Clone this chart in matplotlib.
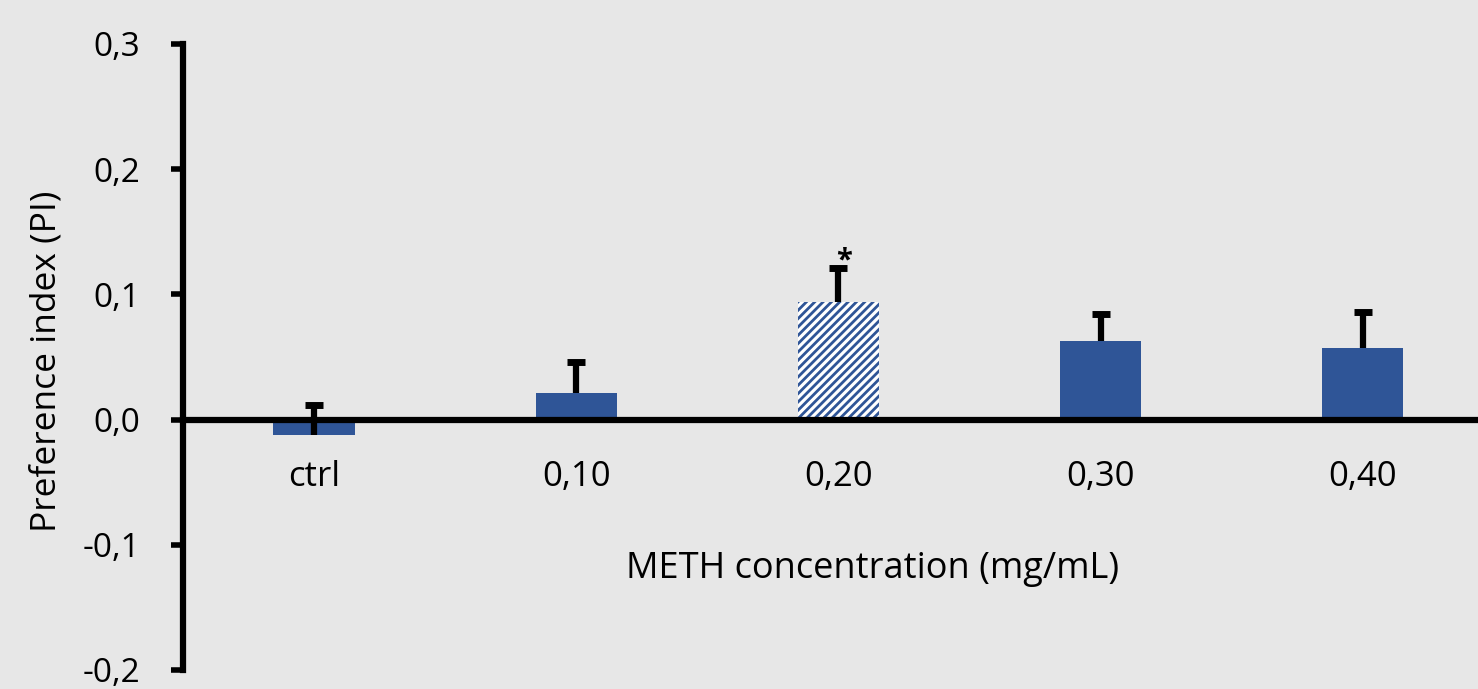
import numpy as np
import matplotlib.pyplot as plt

plt.rcParams['font.family'] = ['Open Sans', 'DejaVu Sans']
plt.rcParams['hatch.linewidth'] = 2.0

categories = ['ctrl', '0,10', '0,20', '0,30', '0,40']
values = [-0.012, 0.021, 0.094, 0.063, 0.057]
errors = [0.024, 0.025, 0.027, 0.021, 0.029]
yticks = [-0.2, -0.1, 0.0, 0.1, 0.2, 0.3]
ytick_labels = ['-0,2', '-0,1', '0,0', '0,1', '0,2', '0,3']

bg = '#e7e7e7'
blue = '#2f5597'

fig = plt.figure(figsize=(14.78, 6.89), dpi=100, facecolor=bg)
ax = fig.add_axes([183/1478, 19/689, 1295/1478, 626/689], facecolor=bg)

x = np.arange(len(categories))
bars = ax.bar(x, values, width=0.31, color=blue, zorder=2)
# significant bar is hatched
bars[2].set_facecolor('white')
bars[2].set_edgecolor(blue)
bars[2].set_hatch('////')
bars[2].set_linewidth(0)

# upper error bars only, single cap on top
tops = np.array(values) + np.array(errors)
ax.vlines(x, values, tops, color='black', linewidth=4.5, zorder=3)
ax.plot(x, tops, linestyle='none', marker='_', markersize=13, mew=5,
        color='black', zorder=3)
ax.text(x[2] + 0.02, tops[2] + 0.006, '*', ha='center', va='center',
        fontsize=21, fontweight='bold')

ax.set_xlim(-0.5, 4.44)
ax.set_ylim(-0.2, 0.3)
ax.set_yticks(yticks)
ax.set_yticklabels(ytick_labels, fontsize=24)
ax.tick_params(axis='y', direction='out', length=9, width=4, pad=22)

ax.spines['top'].set_visible(False)
ax.spines['right'].set_visible(False)
ax.spines['left'].set_linewidth(4.5)
ax.spines['bottom'].set_position(('data', 0))
ax.spines['bottom'].set_linewidth(4.5)
ax.set_xticks([])
for xi, lab in zip(x, categories):
    ax.text(xi, -0.046, lab, ha='center', va='center', fontsize=25)

ax.text(2.13, -0.119, 'METH concentration (mg/mL)', ha='center', va='center', fontsize=26)
ax.set_ylabel('Preference index (PI)', fontsize=25.5)
ax.yaxis.set_label_coords(-0.092, 0.493)

fig.savefig('out.png', dpi=100, facecolor=bg)
